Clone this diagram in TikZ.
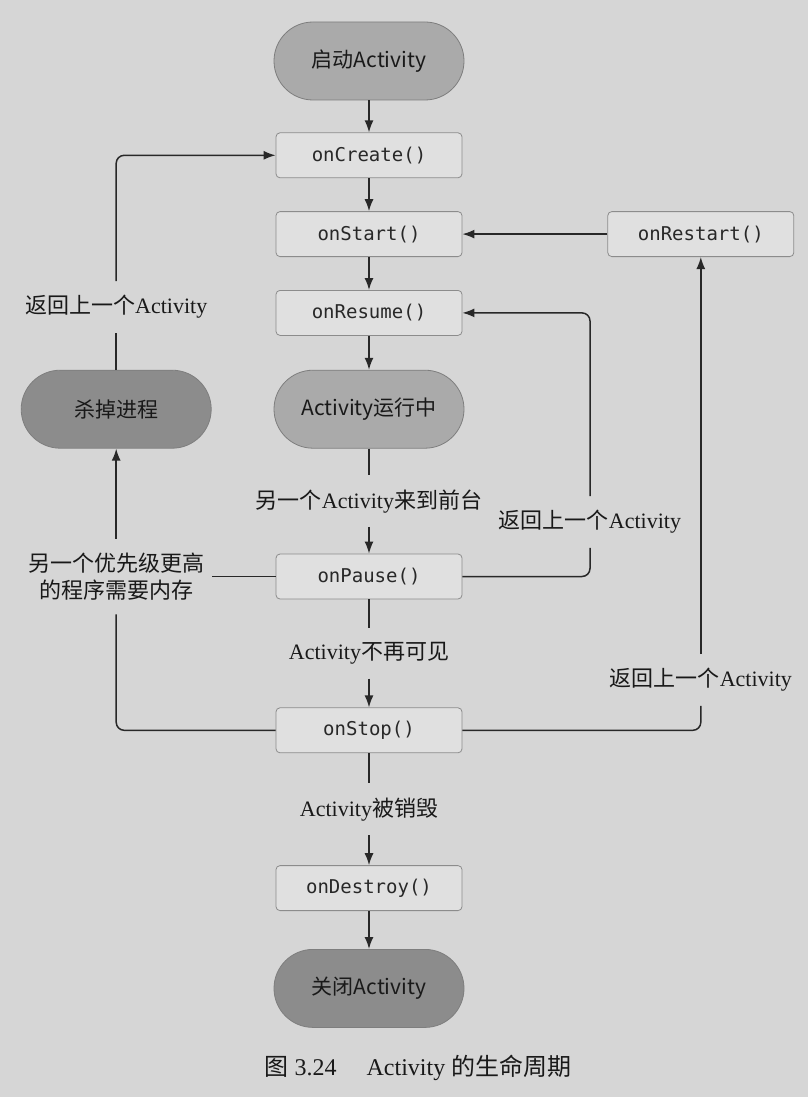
\documentclass[tikz,border=0pt]{standalone}
\usepackage{fontspec}
\setmainfont{Liberation Serif}
\setmonofont{DejaVu Sans Mono}
\newfontfamily\cjk{Noto Sans CJK SC}
\newcommand\zh[1]{{\cjk #1}}
\usetikzlibrary{arrows.meta,calc,positioning}
\definecolor{paper}{RGB}{214,214,214}
\definecolor{boxfill}{RGB}{224,224,224}
\definecolor{boxline}{RGB}{140,140,140}
\definecolor{lightstate}{RGB}{170,170,170}
\definecolor{darkstate}{RGB}{140,140,140}
\definecolor{ink}{RGB}{40,40,40}

\begin{document}
\begin{tikzpicture}[x=1pt,y=-1pt,
  methodbox/.style={draw=boxline,fill=boxfill,rectangle,rounded corners=4pt,line width=0.8pt,
    minimum width=186pt,minimum height=45pt,text=ink,font=\fontsize{19}{22}\selectfont\ttfamily},
  roundstate/.style={draw=ink!60,rectangle,rounded corners=39pt,line width=0.8pt,
    minimum width=190pt,minimum height=78pt,text=black!90,font=\fontsize{21}{25}\selectfont\cjk},
  lightround/.style={roundstate,fill=lightstate},
  darkround/.style={roundstate,fill=darkstate},
  cue/.style={inner xsep=8pt,inner ysep=14pt,align=center,text=black!90,font=\fontsize{22}{27}\selectfont},
  flow/.style={draw=ink,line width=1.5pt},
  tip/.style={-{Latex[length=12pt,width=9pt]}},
  node distance=33pt]

        \fill[paper] (0,0) rectangle (808,1097);

        \node (start) [lightround] at (369,61) {启动Activity};
        \node (create) [methodbox, below=32pt of start] {onCreate()};
        \node (onstart) [methodbox, below=of create] {onStart()};
        \node (resume) [methodbox, below=of onstart] {onResume()};
        \node (running) [lightround, below=34pt of resume] {Activity运行中};
        \node (pause) [methodbox, below=105pt of running] {onPause()};
        \node (stop) [methodbox, below=108pt of pause] {onStop()};
        \node (destroy) [methodbox, below=112pt of stop] {onDestroy()};
        \node (close) [darkround, below=38pt of destroy] {关闭Activity};

        \node (kill) [darkround, left=62pt of running] {杀掉进程};
        \node (restart) [methodbox, right=145pt of onstart] {onRestart()};

        \node (backkill) [cue] at (kill |- 0,307) {\zh{返回上一个}Activity};
        \node (fore) [cue] at ($(running.south)!0.5!(pause.north)$) {\zh{另一个}Activity\zh{来到前台}};
        \node (mem) [cue] at (kill |- pause) {\zh{另一个优先级更高}\\\zh{的程序需要内存}};
        \node (backpause) [cue] at (590,522) {\zh{返回上一个}Activity};
        \node (hidden) [cue] at ($(pause.south)!0.5!(stop.north)$) {Activity\zh{不再可见}};
        \node (gone) [cue] at ($(stop.south)!0.5!(destroy.north)$) {Activity\zh{被销毁}};
        \node (backstop) [cue] at (restart |- 0,680) {\zh{返回上一个}Activity};

        \node (title) [cue,font=\fontsize{24}{28}\selectfont] at (418,1068) {\zh{图} 3.24\quad\ Activity \zh{的生命周期}};

        \draw[flow,tip] (start) -- (create);
        \draw[flow,tip] (create) -- (onstart);
        \draw[flow,tip] (onstart) -- (resume);
        \draw[flow,tip] (resume) -- (running);
        \draw[flow] (running) -- (fore);
        \draw[flow,tip] (fore) -- (pause);
        \draw[flow] (pause) -- (hidden);
        \draw[flow,tip] (hidden) -- (stop);
        \draw[flow] (stop) -- (gone);
        \draw[flow,tip] (gone) -- (destroy);
        \draw[flow,tip] (destroy) -- (close);

        \draw[flow] (kill) -- (backkill);
        \draw[flow,tip,rounded corners=8pt] (backkill) |- (create);
        \draw[flow] (pause) -- (mem);
        \draw[flow,rounded corners=8pt] (stop) -| (mem);
        \draw[flow,tip] (mem) -- (kill);

        \draw[flow,rounded corners=8pt] (pause) -| (backpause);
        \draw[flow,tip,rounded corners=8pt] (backpause) |- (resume);
        \draw[flow,rounded corners=8pt] (stop) -| (backstop);
        \draw[flow,tip] (backstop) -- (restart);
        \draw[flow,tip] (restart) -- (onstart);
      \end{tikzpicture}
\end{document}
